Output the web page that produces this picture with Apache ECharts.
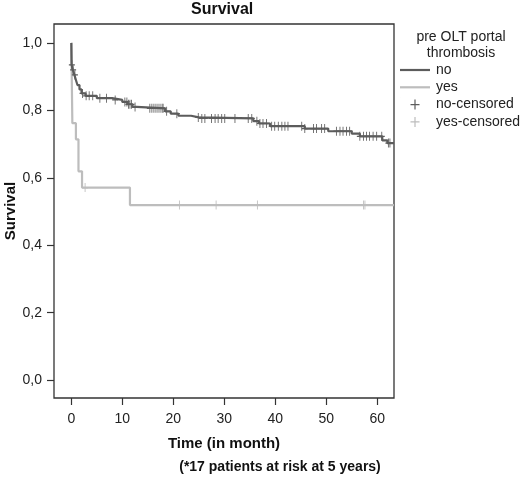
<!DOCTYPE html>
<html>
<head>
<meta charset="utf-8">
<script src="https://cdn.jsdelivr.net/npm/echarts@6/dist/echarts.min.js"></script>
<style>
html,body{margin:0;padding:0;background:#fff;}
#chart{width:521px;height:477px;}
</style>
</head>
<body>
<div id="chart"></div>
<script>
// ---- Data (Kaplan-Meier steps) ----
var noStepTimes = [0, 0.05, 0.3, 0.6, 0.9, 1.2, 1.6, 2.0, 2.8, 5.0, 8.0, 10.0, 11.0, 12.0, 12.8, 18.4, 19.5, 21.0, 23.5, 25.0, 35.7, 36.8, 39.0, 45.8, 50.4, 55.0, 56.6, 61.0, 62.0, 63.3];
var noStepSurv  = [1.0, 0.935, 0.92, 0.905, 0.89, 0.875, 0.862, 0.85, 0.843, 0.836, 0.831, 0.825, 0.818, 0.81, 0.806, 0.797, 0.79, 0.784, 0.779, 0.776, 0.768, 0.761, 0.753, 0.746, 0.738, 0.731, 0.723, 0.711, 0.703, 0.703];

var yesStepTimes = [0, 0.2, 0.9, 1.4, 2.1, 11.5, 63.3];
var yesStepSurv  = [1.0, 0.762, 0.714, 0.619, 0.571, 0.519, 0.519];

var noCensorTimes = [0.1, 0.35, 0.7, 2.2, 2.9, 3.5, 4.2, 5.6, 6.9, 8.6, 10.5, 10.9, 11.2, 11.5, 11.8, 12.5, 15.4, 15.8, 16.2, 16.6, 17.0, 17.4, 17.8, 18.0, 18.7, 20.7, 24.9, 25.6, 26.2, 27.5, 28.2, 28.8, 29.5, 30.1, 32.1, 34.7, 35.4, 36.4, 37.0, 37.6, 38.3, 39.3, 39.9, 40.6, 41.3, 41.9, 42.5, 45.2, 45.8, 47.5, 48.1, 49.1, 49.7, 52.0, 52.7, 53.3, 54.0, 54.6, 56.6, 57.3, 57.9, 58.5, 59.2, 59.9, 60.9, 62.2, 62.5];
var yesCensorTimes = [2.7, 21.2, 28.4, 36.5, 57.3, 57.6];

var xTicks = [0, 10, 20, 30, 40, 50, 60];
var yTicks = [0, 0.2, 0.4, 0.6, 0.8, 1.0];

// ---- helpers ----
function pairs(ts, ss){ return ts.map(function(t,i){ return [t, ss[i]]; }); }
function survAt(ts, ss, t){
  var v = ss[0];
  for (var i = 0; i < ts.length; i++){ if (ts[i] <= t) v = ss[i]; }
  return v;
}
var noCensor = noCensorTimes.map(function(t){ return [t, survAt(noStepTimes, noStepSurv, t)]; });
var yesCensor = yesCensorTimes.map(function(t){ return [t, survAt(yesStepTimes, yesStepSurv, t)]; });

var DARK = '#5c5c5c', LIGHT = '#bdbdbd';
var FONT = '"Liberation Sans", Arial, sans-serif';
var plus = 'path://M4.3,0H5.7V10H4.3ZM0,4.3H10V5.7H0Z';
var plusLegend = 'path://M0,0h0.05v0.05h-0.05ZM29.95,13.95h0.05v0.05h-0.05ZM14.4,2H15.6V12H14.4ZM10.5,6.4H19.5V7.6H10.5Z';
var lineIcon = 'path://M0,0H30V2.2H0Z';

var chart = echarts.init(document.getElementById('chart'), null, {renderer:'canvas'});
chart.setOption({
  animation: false,
  backgroundColor: '#fff',
  textStyle: {fontFamily: FONT},
  title: {
    text: 'Survival', left: 191, top: -3, padding: [5, 0],
    textStyle: {fontFamily: FONT, fontWeight: 'bold', fontSize: 16, color: '#111'}
  },
  grid: {left: 54, top: 24, right: 127, bottom: 79, containLabel: false, outerBoundsMode: 'none',
         show: true, borderColor: '#333', borderWidth: 1.3, backgroundColor: 'transparent'},
  xAxis: {
    type: 'value', min: -3.4, max: 63.3,
    name: 'Time (in month)', nameLocation: 'middle', nameGap: 38,
    nameTextStyle: {fontFamily: FONT, fontWeight: 'bold', fontSize: 15, color: '#111'},
    axisLine: {show: false, onZero: false},
    splitLine: {show: false},
    axisTick: {show: true, inside: false, customValues: xTicks, length: 7, lineStyle: {color: '#333', width: 1.2}},
    axisLabel: {customValues: xTicks, fontSize: 14, color: '#222', margin: 14, fontFamily: FONT}
  },
  yAxis: {
    type: 'value', min: -0.053, max: 1.056,
    axisLine: {show: false, onZero: false},
    splitLine: {show: false},
    axisTick: {show: true, inside: false, customValues: yTicks, length: 7, lineStyle: {color: '#333', width: 1.2}},
    axisLabel: {customValues: yTicks, fontSize: 14, color: '#222', margin: 12, fontFamily: FONT,
      formatter: function(v){ return v.toFixed(1).replace('.', ','); }}
  },
  legend: {
    orient: 'vertical', left: 400, top: 63, padding: 0,
    itemWidth: 30, itemHeight: 14, itemGap: 3.3,
    textStyle: {fontFamily: FONT, fontSize: 14, color: '#222', padding: [0,0,0,1]},
    data: [
      {name: 'no', icon: lineIcon},
      {name: 'yes', icon: lineIcon},
      {name: 'no-censored', icon: plusLegend},
      {name: 'yes-censored', icon: plusLegend}
    ]
  },
  graphic: [
    {type: 'text', x: 11, y: 211, rotation: Math.PI / 2,
     style: {text: 'Survival', textAlign: 'center', textVerticalAlign: 'middle', font: 'bold 15px ' + FONT, fill: '#111'}},
    {type: 'text', x: 461, y: 29, style: {text: 'pre OLT portal\nthrombosis', textAlign: 'center', font: '14px ' + FONT, fill: '#222', lineHeight: 16}},
    {type: 'text', x: 280, y: 460, style: {text: '(*17 patients at risk at 5 years)', textAlign: 'center', font: 'bold 14px ' + FONT, fill: '#111'}}
  ],
  series: [
    {name: 'no', type: 'line', step: 'end', data: pairs(noStepTimes, noStepSurv), symbol: 'none', clip: true,
     lineStyle: {color: DARK, width: 2.2}, itemStyle: {color: DARK}, z: 3},
    {name: 'yes', type: 'line', step: 'end', data: pairs(yesStepTimes, yesStepSurv), symbol: 'none', clip: true,
     lineStyle: {color: LIGHT, width: 2.2}, itemStyle: {color: LIGHT}, z: 2},
    {name: 'no-censored', type: 'scatter', data: noCensor, symbol: plus, symbolSize: [6, 9],
     itemStyle: {color: DARK, opacity: 1}, z: 4},
    {name: 'yes-censored', type: 'scatter', data: yesCensor, symbol: plus, symbolSize: [6, 9],
     itemStyle: {color: LIGHT, opacity: 1}, z: 3}
  ]
});
</script>
</body>
</html>
